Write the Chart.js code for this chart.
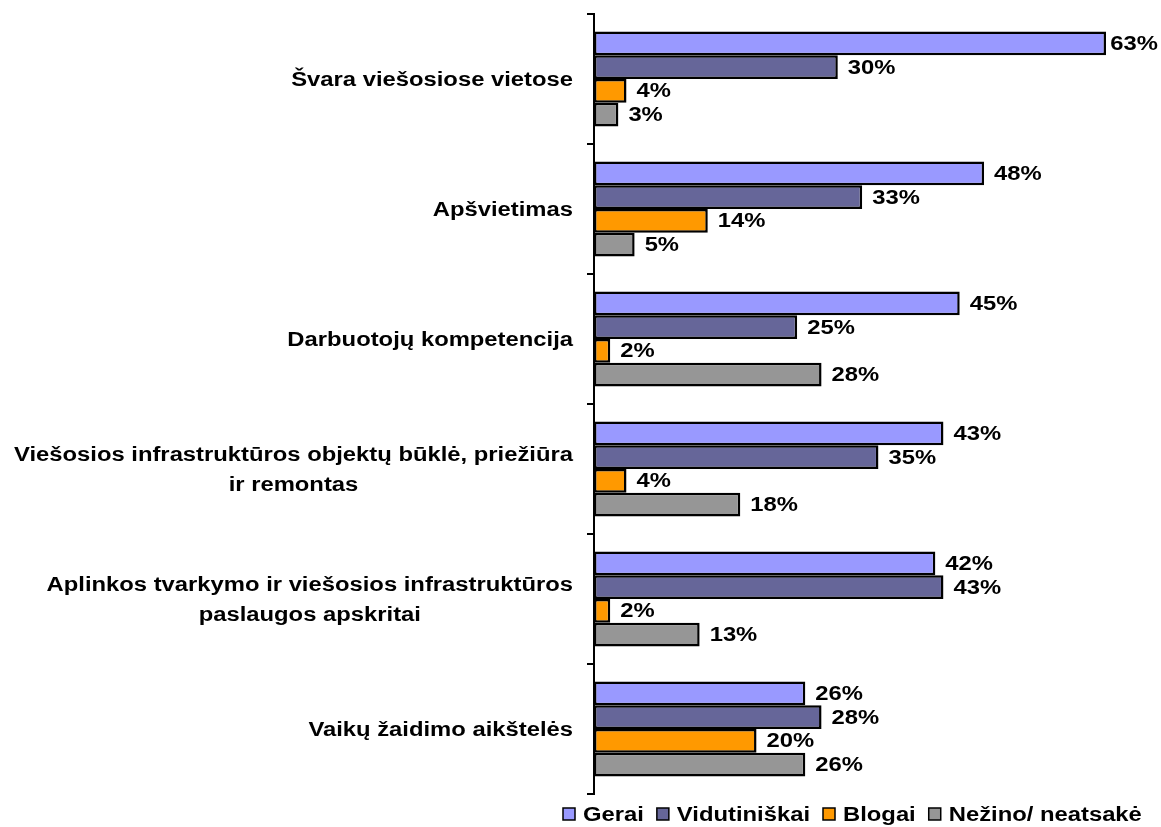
<!DOCTYPE html>
<html>
<head>
<meta charset="utf-8">
<script src="https://cdn.jsdelivr.net/npm/chart.js"></script>
<style>
	body { margin: 0; background: #fff; }
</style>
</head>
<body>
	<canvas id="chart" width="1161" height="827"></canvas>
	<script>
		// categories, top to bottom (multi-line labels as arrays)
		const categories = [
			['Švara viešosiose vietose'],
			['Apšvietimas'],
			['Darbuotojų kompetencija'],
			['Viešosios infrastruktūros objektų būklė, priežiūra', 'ir remontas'],
			['Aplinkos tvarkymo ir viešosios infrastruktūros', 'paslaugos apskritai'],
			['Vaikų žaidimo aikštelės']
		];
		const seriesNames = ['Gerai', 'Vidutiniškai', 'Blogai', 'Nežino/ neatsakė'];
		const gerai = [63, 48, 45, 43, 42, 26];
		const vidutiniskai = [30, 33, 25, 35, 43, 28];
		const blogai = [4, 14, 2, 4, 2, 20];
		const nezino = [3, 5, 28, 18, 13, 26];
		const colors = ['#9999ff', '#666699', '#ff9900', '#969696'];

		const FONT = 'bold 20px "Liberation Sans", Arial, sans-serif';
		const STRETCH = 1.19; // text in the original is a bit wider than plain Arial

		function drawText(ctx, text, x, y) {
			ctx.save();
			ctx.translate(x, y);
			ctx.scale(STRETCH, 1);
			ctx.fillText(text, 0, 0);
			ctx.restore();
		}

		// category labels: block right-aligned to the axis, lines centred in the block
		const catLabels = {
			id: 'catLabels',
			afterDraw(chart) {
				const ctx = chart.ctx;
				const y = chart.scales.y;
				ctx.save();
				ctx.font = FONT;
				ctx.fillStyle = '#000';
				ctx.textAlign = 'center';
				ctx.textBaseline = 'middle';
				const right = 573, lh = 30;
				chart.data.labels.forEach((lines, i) => {
					const cy = y.getPixelForValue(i) + 1;
					const blockW = Math.max(...lines.map(l => ctx.measureText(l).width * STRETCH));
					const cx = right - blockW / 2;
					lines.forEach((l, k) => {
						drawText(ctx, l, cx, cy + (k - (lines.length - 1) / 2) * lh);
					});
				});
				ctx.restore();
			}
		};

		// value labels just outside the bar ends
		const valueLabels = {
			id: 'valueLabels',
			afterDatasetsDraw(chart) {
				const ctx = chart.ctx;
				ctx.save();
				ctx.font = FONT;
				ctx.fillStyle = '#000';
				ctx.textAlign = 'left';
				ctx.textBaseline = 'middle';
				chart.data.datasets.forEach((ds, di) => {
					chart.getDatasetMeta(di).data.forEach((el, i) => {
						const t = ds.data[i] + '%';
						const w = ctx.measureText(t).width * STRETCH;
						let x = el.x + 10;
						if (x + w > chart.width - 3) x = chart.width - 3 - w;
						drawText(ctx, t, x, el.y + 1);
					});
				});
				ctx.restore();
			}
		};

		// legend along the bottom
		const bottomLegend = {
			id: 'bottomLegend',
			afterDraw(chart) {
				const ctx = chart.ctx;
				ctx.save();
				ctx.font = FONT;
				ctx.textAlign = 'left';
				ctx.textBaseline = 'middle';
				let x = 563;
				const cy = 814;
				chart.data.datasets.forEach(ds => {
					ctx.fillStyle = ds.backgroundColor;
					ctx.fillRect(x, cy - 6, 12, 12);
					ctx.strokeStyle = '#000';
					ctx.lineWidth = 1.5;
					ctx.strokeRect(x, cy - 6, 12, 12);
					ctx.fillStyle = '#000';
					drawText(ctx, ds.label, x + 20, cy + 1);
					x += 20 + ctx.measureText(ds.label).width * STRETCH + 13;
				});
				ctx.restore();
			}
		};

		const seriesData = [gerai, vidutiniskai, blogai, nezino];
		const chart = new Chart(document.getElementById('chart'), {
			type: 'bar',
			data: {
				labels: categories,
				datasets: seriesNames.map((name, i) => ({
					label: name,
					data: seriesData[i],
					backgroundColor: colors[i],
					borderColor: '#000',
					borderWidth: 2.5,
					borderSkipped: false,
					categoryPercentage: 0.73,
					barPercentage: 1
				}))
			},
			options: {
				indexAxis: 'y',
				responsive: false,
				animation: false,
				layout: { padding: { top: 14, bottom: 33, left: 0, right: 55 } },
				plugins: {
					legend: { display: false },
					tooltip: { enabled: false }
				},
				scales: {
					x: { display: false, min: 0, max: 63 },
					y: {
						offset: true,
						afterFit(scale) { scale.width = 594; },
						ticks: { display: false },
						grid: {
							offset: true,
							drawOnChartArea: false,
							drawTicks: true,
							tickLength: 7,
							color: '#000',
							lineWidth: 2
						},
						border: { display: true, color: '#000', width: 2 }
					}
				}
			},
			plugins: [catLabels, valueLabels, bottomLegend]
		});
	</script>
</body>
</html>
